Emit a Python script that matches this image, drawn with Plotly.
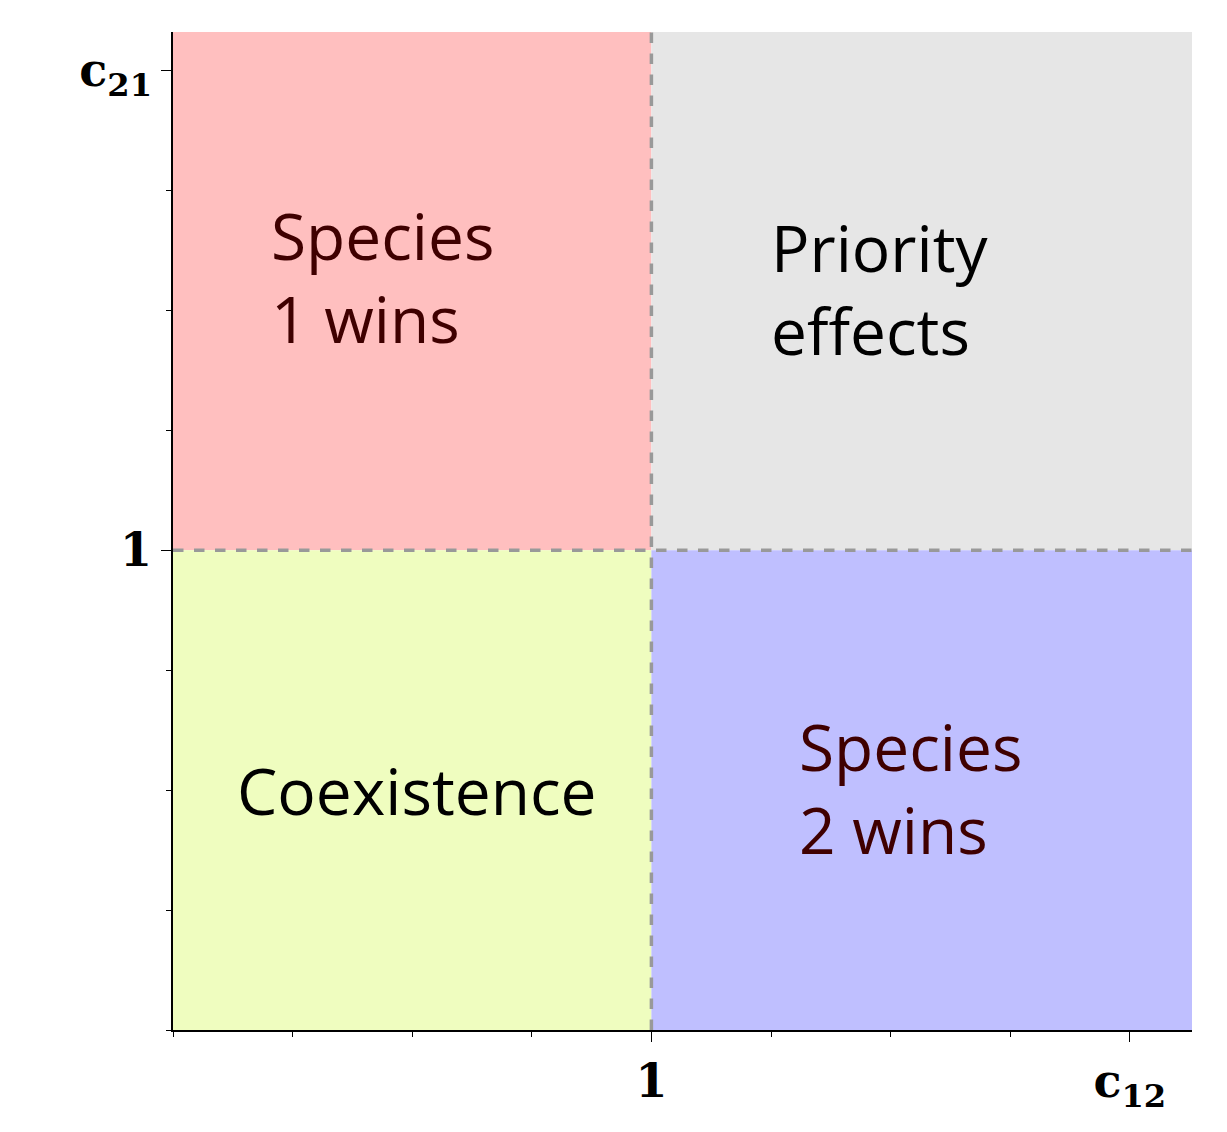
import plotly.graph_objects as go

# regions: (x0, x1, y0, y1, color)
region_x0 = [0, 1, 0, 1]
region_x1 = [1, 2.13, 1, 2.13]
region_y0 = [1, 1, 0, 0]
region_y1 = [2.08, 2.08, 1, 1]
region_colors = ["#FFBFBF", "#E6E6E6", "#EFFDBF", "#BFBFFF"]

labels = ["Species<br>1 wins", "Priority<br>effects", "Coexistence", "Species<br>2 wins"]
label_x = [0.2, 1.245, 0.51, 1.305]
label_y = [1.57, 1.545, 0.5, 0.505]
label_anchor = ["left", "left", "center", "left"]
label_colors = ["#3F0000", "#000000", "#000000", "#3F0000"]

x_tickvals = [1, 2]
x_ticktext = ["<b>1</b>", "<b>c<sub>12</sub></b>"]
y_tickvals = [1, 2]
y_ticktext = ["<b>1</b>", "<b>c<sub>21</sub></b>"]

fig = go.Figure()
for x0, x1, y0, y1, c in zip(region_x0, region_x1, region_y0, region_y1, region_colors):
    fig.add_shape(type="rect", x0=x0, x1=x1, y0=y0, y1=y1, fillcolor=c, line_width=0, layer="below")
fig.add_shape(type="line", x0=1, x1=1, y0=0, y1=2.08, line=dict(color="#999999", width=3.5, dash="dash"))
fig.add_shape(type="line", x0=0, x1=2.13, y0=1, y1=1, line=dict(color="#999999", width=3.5, dash="dash"))

for t, x, y, a, c in zip(labels, label_x, label_y, label_anchor, label_colors):
    fig.add_annotation(x=x, y=y, text=t, showarrow=False, xanchor=a, align="left",
                       font=dict(family="Open Sans", size=64, color=c))

fig.update_layout(
    width=1227, height=1132, margin=dict(l=165, r=43, t=24, b=110),
    plot_bgcolor="white", paper_bgcolor="white", showlegend=False,
    xaxis=dict(range=[0, 2.13], showgrid=False, zeroline=False, showline=True, linecolor="black",
               linewidth=1.5, ticks="outside", ticklen=10, tickcolor="black",
               tickvals=x_tickvals, ticktext=x_ticktext,
               tickfont=dict(family="DejaVu Serif", size=46, color="black"),
               minor=dict(dtick=0.25, tick0=0, ticks="outside", ticklen=5, tickcolor="black", showgrid=False)),
    yaxis=dict(range=[0, 2.08], showgrid=False, zeroline=False, showline=True, linecolor="black",
               linewidth=1.5, ticks="outside", ticklen=10, tickcolor="black",
               tickvals=y_tickvals, ticktext=y_ticktext,
               tickfont=dict(family="DejaVu Serif", size=46, color="black"),
               minor=dict(dtick=0.25, tick0=0, ticks="outside", ticklen=5, tickcolor="black", showgrid=False)),
)
fig.write_html("out.html")
